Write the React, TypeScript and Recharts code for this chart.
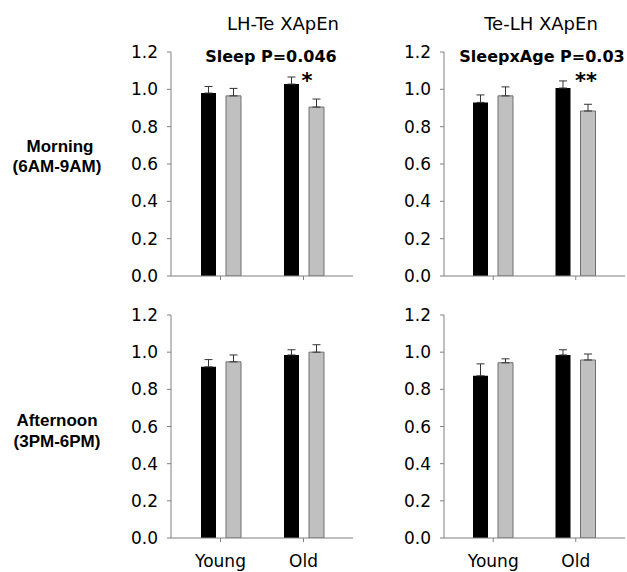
import { BarChart, Bar, XAxis, YAxis, ErrorBar } from "recharts"

const groups = ["Young", "Old"]
const yTicks = [0, 0.2, 0.4, 0.6, 0.8, 1.0, 1.2]

// Morning, LH-Te XApEn
const mornLhBlack = [0.98, 1.028]
const mornLhBlackErr = [0.035, 0.038]
const mornLhGray = [0.965, 0.905]
const mornLhGrayErr = [0.04, 0.043]

// Morning, Te-LH XApEn
const mornTeBlack = [0.93, 1.007]
const mornTeBlackErr = [0.04, 0.038]
const mornTeGray = [0.965, 0.884]
const mornTeGrayErr = [0.048, 0.036]

// Afternoon, LH-Te XApEn
const aftLhBlack = [0.921, 0.985]
const aftLhBlackErr = [0.039, 0.028]
const aftLhGray = [0.948, 1.0]
const aftLhGrayErr = [0.037, 0.04]

// Afternoon, Te-LH XApEn
const aftTeBlack = [0.873, 0.985]
const aftTeBlackErr = [0.064, 0.028]
const aftTeGray = [0.943, 0.958]
const aftTeGrayErr = [0.021, 0.032]

const makeRows = (black: number[], blackErr: number[], gray: number[], grayErr: number[]) =>
	groups.map((g, i) => ({
		group: g,
		black: black[i],
		blackErr: [0, blackErr[i]],
		gray: gray[i],
		grayErr: [0, grayErr[i]],
	}))

const font = "'DejaVu Sans', Verdana, sans-serif"
const axisGray = "#808080"

function XTick({ x, y, payload, show }: any) {
	if (!show) return <g />
	return (
		<text x={x} y={y} dy="0.71em" textAnchor="middle" fill="#000" fontSize={17} fontFamily={font}>
			{payload.value}
		</text>
	)
}

function Panel({ data, left, top, width, height, marginTop, marginRight, xHeight, labels }: any) {
	return (
		<div style={{ position: "absolute", left, top }}>
			<BarChart
				width={width}
				height={height}
				data={data}
				margin={{ top: marginTop, right: marginRight, left: 0, bottom: 0 }}
				barSize={15}
				barGap={10}
			>
				<XAxis
					dataKey="group"
					height={xHeight}
					padding={{ left: 8, right: 8 }}
					stroke={axisGray}
					tickSize={4}
					tickMargin={13}
					tick={<XTick show={labels} />}
					interval={0}
				/>
				<YAxis
					width={71}
					domain={[0, 1.2]}
					ticks={yTicks}
					allowDataOverflow
					stroke={axisGray}
					tickSize={4}
					tickMargin={9}
					tickFormatter={(v: number) => v.toFixed(1)}
					tick={{ fill: "#000", fontSize: 17, fontFamily: font }}
				/>
				<Bar dataKey="black" fill="#000" isAnimationActive={false}>
					<ErrorBar dataKey="blackErr" width={4} stroke="#333" strokeWidth={1} direction="y" />
				</Bar>
				<Bar dataKey="gray" fill="#C0C0C0" stroke="#6e6e6e" strokeWidth={1} isAnimationActive={false}>
					<ErrorBar dataKey="grayErr" width={4} stroke="#333" strokeWidth={1} direction="y" />
				</Bar>
			</BarChart>
		</div>
	)
}

export default function App() {
	return (
		<div style={{ position: "absolute", left: 0, top: 0, width: 627, height: 572, background: "#fff" }}>
			<Panel data={makeRows(mornLhBlack, mornLhBlackErr, mornLhGray, mornLhGrayErr)}
				left={100} top={40} width={270} height={260} marginTop={12} marginRight={17} xHeight={24} labels={false} />
			<Panel data={makeRows(mornTeBlack, mornTeBlackErr, mornTeGray, mornTeGrayErr)}
				left={373} top={40} width={254} height={260} marginTop={12} marginRight={2} xHeight={24} labels={false} />
			<Panel data={makeRows(aftLhBlack, aftLhBlackErr, aftLhGray, aftLhGrayErr)}
				left={100} top={300} width={270} height={272} marginTop={15} marginRight={17} xHeight={34} labels />
			<Panel data={makeRows(aftTeBlack, aftTeBlackErr, aftTeGray, aftTeGrayErr)}
				left={373} top={300} width={254} height={272} marginTop={15} marginRight={2} xHeight={34} labels />

			<svg width={627} height={572} style={{ position: "absolute", left: 0, top: 0, pointerEvents: "none" }}>
				<g fontFamily={font} fill="#000" textAnchor="middle">
					<text x={283} y={30} fontSize={18}>LH-Te XApEn</text>
					<text x={541} y={30} fontSize={18}>Te-LH XApEn</text>
					<text x={271} y={62} fontSize={16} fontWeight="bold">Sleep P=0.046</text>
					<text x={542} y={62} fontSize={16} fontWeight="bold">SleepxAge P=0.03</text>
					<text x={307} y={88} fontSize={21} fontWeight="bold">*</text>
					<text x={586} y={88} fontSize={21} fontWeight="bold">**</text>
				</g>
				<g fontFamily="'Liberation Sans', Arial, sans-serif" fontWeight="bold" fontSize={17} fill="#000" textAnchor="middle">
					<text x={60} y={152}>Morning</text>
					<text x={57} y={172}>(6AM-9AM)</text>
					<text x={57} y={426}>Afternoon</text>
					<text x={57} y={447}>(3PM-6PM)</text>
				</g>
			</svg>
		</div>
	)
}
